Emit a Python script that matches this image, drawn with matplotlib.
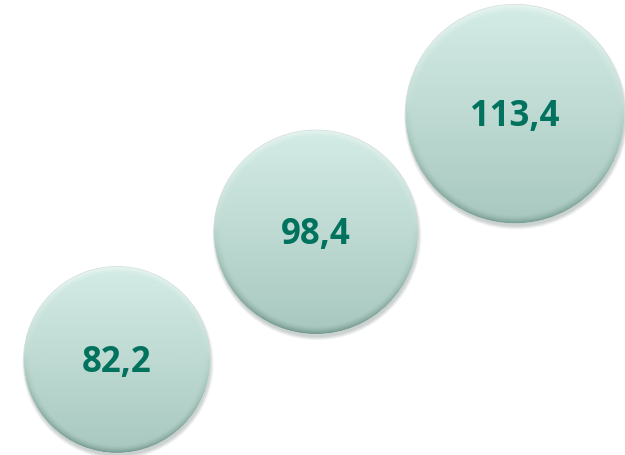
import numpy as np
import matplotlib
matplotlib.use("Agg")
from matplotlib import pyplot as plt
from matplotlib.patches import Circle
from matplotlib.transforms import ScaledTranslation

# bubble data: position on x is just the order, y and bubble area follow the value
positions = [0, 1, 2]
values = [82.2, 98.4, 113.4]
labels = ["82,2", "98,4", "113,4"]

top_col = np.array([0xd4, 0xec, 0xe6]) / 255.0
bot_col = np.array([0xa8, 0xc8, 0xbf]) / 255.0
rim_col = np.array([0x6f, 0x93, 0x89]) / 255.0
text_col = "#00725d"

fig = plt.figure(figsize=(6.25, 4.55), dpi=100)
ax = fig.add_axes([0, 0, 1, 1])
ax.set_xlim(-0.588, 2.553)
ax.set_ylim(70.12, 127.87)
ax.axis("off")


def bubble_image(n=300):
    yy, xx = np.mgrid[-1:1:n * 1j, -1:1:n * 1j]
    d = np.sqrt(xx ** 2 + yy ** 2)
    t = (yy + 1) / 2  # 0 top -> 1 bottom
    img = top_col[None, None, :] * (1 - t[..., None]) + bot_col[None, None, :] * t[..., None]
    # darker bevel along the lower edge, light one on top
    edge = np.clip((d - 0.92) / 0.08, 0, 1) ** 1.5
    low = np.clip((yy + 0.1) / 1.1, 0, 1)
    k = (edge * low)[..., None] * 0.9
    img = img * (1 - k) + rim_col[None, None, :] * k
    hi = (np.clip((d - 0.93) / 0.07, 0, 1) * np.clip(-yy, 0, 1))[..., None] * 0.6
    img = img * (1 - hi) + np.array([0.97, 0.99, 0.98])[None, None, :] * hi
    return img


img = bubble_image()
scale = 10.3 / 100.0  # inches per sqrt(value)

for x, v, lab in zip(positions, values, labels):
    r = scale * np.sqrt(v)
    trans = fig.dpi_scale_trans + ScaledTranslation(x, v, ax.transData)
    # soft shadow, mostly below and to the right
    for i in range(8):
        ax.add_patch(Circle((0.01, -0.035), r - 0.012 + 0.005 * i,
                            transform=trans, facecolor="#5a6e68",
                            edgecolor="none", alpha=0.045, zorder=1))
    clip = Circle((0, 0), r, transform=trans, facecolor="none",
                  edgecolor="#d3dcda", linewidth=0.5, zorder=3)
    ax.add_patch(clip)
    im = ax.imshow(img, extent=[-r, r, -r, r], transform=trans,
                   interpolation="bilinear", zorder=2)
    im.set_clip_path(clip)
    ax.annotate(lab, (x, v), xytext=(0, -8.5), textcoords="offset points",
                ha="center", va="baseline", fontsize=25, fontweight="bold",
                family=["Open Sans", "DejaVu Sans"], color=text_col, zorder=4)

fig.savefig("out.png", dpi=100)
